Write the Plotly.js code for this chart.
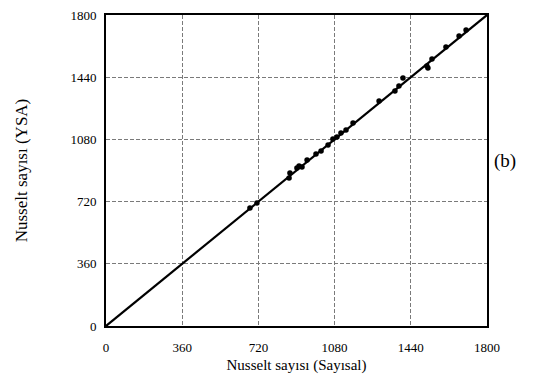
<!DOCTYPE html>
<html><head><meta charset="utf-8">
<script src="https://cdn.plot.ly/plotly-3.0.1.min.js"></script>
<style>body{margin:0;background:#fff}#c{width:543px;height:376px}</style>
</head><body><div id="c"></div>
<script>
const nuSayisal = [680,713,865,869,902,912,926,950,992,1016,1049,1072,1091,1110,1134,1167,1290,1365,1384,1403,1516,1521,1540,1606,1668,1701];
const nuYSA     = [683,712,857,886,914,926,920,961,996,1013,1048,1082,1094,1117,1134,1175,1302,1360,1389,1435,1505,1493,1545,1615,1678,1713];
const lineX = [0,1800];
const lineY = [0,1800];
const tickVals = [0,360,720,1080,1440,1800];

const font = {family:'"Liberation Serif","Times New Roman",serif', color:'#000'};
const traces = [
  {x:lineX, y:lineY, mode:'lines', line:{color:'#000', width:2.2}, hoverinfo:'skip'},
  {x:nuSayisal, y:nuYSA, mode:'markers', marker:{color:'#000', size:5.5}}
];
const ax = {
  range:[0,1800], tickvals:tickVals, ticks:'', showline:true, linecolor:'#000', linewidth:2, mirror:true,
  showgrid:true, gridcolor:'#7a7a7a', griddash:'4px,2px', gridwidth:1.3, zeroline:false,
  tickfont:{...font, size:13}
};
const layout = {
  width:543, height:376, showlegend:false,
  margin:{l:106, r:56, t:15, b:50},
  paper_bgcolor:'#fff', plot_bgcolor:'#fff', font:font,
  xaxis:{...ax, ticklabelstandoff:8, title:{text:'Nusselt sayısı (Sayısal)', font:{...font,size:15}, standoff:6}},
  yaxis:{...ax, ticklabelstandoff:5, title:{text:'Nusselt sayısı (YSA)', font:{...font,size:17}, standoff:38}},
  annotations:[{text:'(b)', xref:'paper', yref:'paper', x:(505-106)/381, y:(326-161)/311,
    xanchor:'center', yanchor:'middle', showarrow:false, font:{...font,size:19}}]
};
Plotly.newPlot('c', traces, layout, {displayModeBar:false, staticPlot:true});
</script></body></html>
